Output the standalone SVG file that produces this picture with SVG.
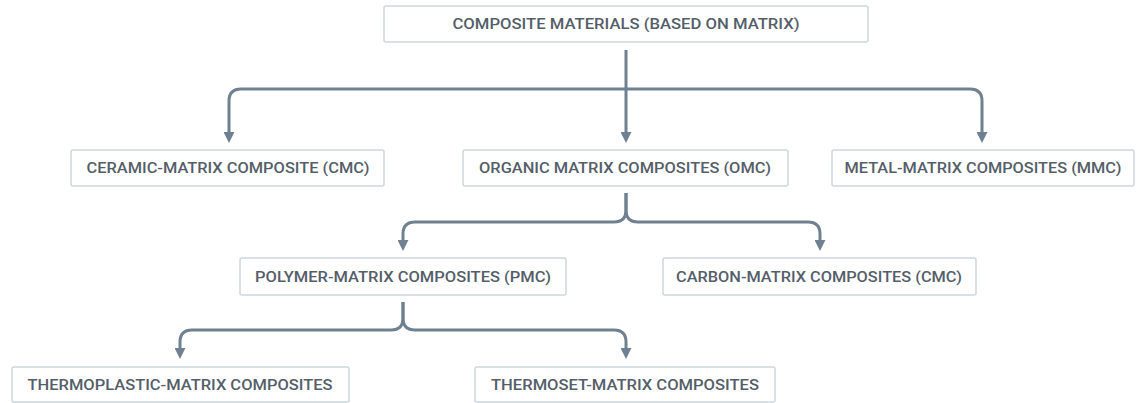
<svg xmlns="http://www.w3.org/2000/svg" width="1144" height="403" viewBox="0 0 1144 403">
  <style>
    .box { fill: #ffffff; stroke: #cdd7e0; stroke-width: 1.5; }
    .lbl { font-family: Roboto, "Liberation Sans", sans-serif; font-size: 15px; font-weight: 500; fill: #545e69; text-anchor: middle; dominant-baseline: central; }
    .wire { fill: none; stroke: #6f8190; stroke-width: 3; marker-end: url(#tip); }
    .wire-plain { fill: none; stroke: #6f8190; stroke-width: 3; }
  </style>
  <defs>
    <marker id="tip" viewBox="0 0 10 10" refX="1" refY="5" markerWidth="11" markerHeight="11" markerUnits="userSpaceOnUse" orient="auto">
      <path d="M0,0 L10,5 L0,10 z" fill="#6f8190"/>
    </marker>
  </defs>
  <rect width="1144" height="403" fill="#ffffff"/>

  <g id="connectors">
    <!-- root to second level -->
    <path class="wire" d="M626,50 V133"/>
    <path class="wire" d="M626,89 H241 Q229,89 229,101 V133"/>
    <path class="wire" d="M626,89 H970 Q982,89 982,101 V133"/>
    <!-- organic matrix to third level -->
    <path class="wire" d="M626,193 V210 Q626,222 614,222 H415 Q403,222 403,234 V241"/>
    <path class="wire" d="M626,193 V210 Q626,222 638,222 H808 Q820,222 820,234 V241"/>
    <!-- polymer matrix to fourth level -->
    <path class="wire" d="M403,302 V318 Q403,330 391,330 H192 Q180,330 180,342 V349"/>
    <path class="wire" d="M403,302 V318 Q403,330 415,330 H614 Q626,330 626,342 V349"/>
  </g>

  <g id="node-root">
    <rect class="box" x="384" y="6" width="484" height="36" rx="2"/>
    <text class="lbl" x="626" y="24" textLength="347" lengthAdjust="spacingAndGlyphs">COMPOSITE MATERIALS (BASED ON MATRIX)</text>
  </g>
  <g id="node-cmc">
    <rect class="box" x="71" y="150" width="313" height="36" rx="2"/>
    <text class="lbl" x="228" y="168" textLength="283" lengthAdjust="spacingAndGlyphs">CERAMIC-MATRIX COMPOSITE (CMC)</text>
  </g>
  <g id="node-omc">
    <rect class="box" x="463" y="150" width="325" height="36" rx="2"/>
    <text class="lbl" x="625" y="168" textLength="292" lengthAdjust="spacingAndGlyphs">ORGANIC MATRIX COMPOSITES (OMC)</text>
  </g>
  <g id="node-mmc">
    <rect class="box" x="832" y="150" width="302" height="36" rx="2"/>
    <text class="lbl" x="983" y="168" textLength="277" lengthAdjust="spacingAndGlyphs">METAL-MATRIX COMPOSITES (MMC)</text>
  </g>
  <g id="node-pmc">
    <rect class="box" x="240" y="258" width="326" height="37" rx="2"/>
    <text class="lbl" x="403" y="276.5" textLength="296" lengthAdjust="spacingAndGlyphs">POLYMER-MATRIX COMPOSITES (PMC)</text>
  </g>
  <g id="node-carbon">
    <rect class="box" x="663" y="258" width="313" height="37" rx="2"/>
    <text class="lbl" x="819" y="276.5" textLength="286" lengthAdjust="spacingAndGlyphs">CARBON-MATRIX COMPOSITES (CMC)</text>
  </g>
  <g id="node-thermoplastic">
    <rect class="box" x="12" y="367" width="337" height="35" rx="2"/>
    <text class="lbl" x="180" y="384.5" textLength="305" lengthAdjust="spacingAndGlyphs">THERMOPLASTIC-MATRIX COMPOSITES</text>
  </g>
  <g id="node-thermoset">
    <rect class="box" x="475" y="367" width="300" height="35" rx="2"/>
    <text class="lbl" x="625" y="384.5" textLength="268" lengthAdjust="spacingAndGlyphs">THERMOSET-MATRIX COMPOSITES</text>
  </g>
</svg>
